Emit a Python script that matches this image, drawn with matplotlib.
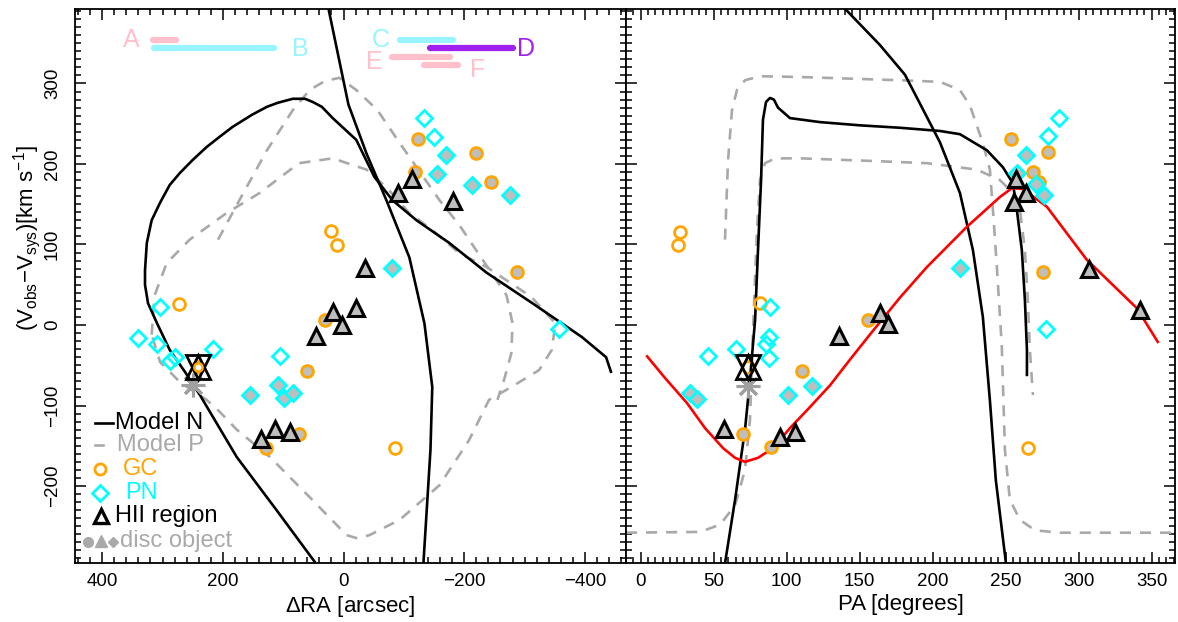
import matplotlib
matplotlib.use('Agg')
import matplotlib.pyplot as plt
from matplotlib.ticker import MultipleLocator

plt.rcParams['font.family'] = ['Liberation Sans', 'DejaVu Sans']
plt.rcParams['mathtext.default'] = 'regular'
plt.rcParams['axes.unicode_minus'] = True

ORANGE = '#FFA500'
CYAN = '#00FFFF'
FILLGRAY = '#BEBEBE'
DASHGRAY = '#A9A9A9'
PINK = '#FFC0CB'
LCYAN = '#98F5FF'
PURPLE = '#A020F0'

# ---------------- left panel (Delta RA) ----------------
# Model N curves
nL1_ra = [48, 111, 177, 238, 263, 288, 309, 324, 329, 329, 326, 318, 304, 288, 271, 250, 227, 205, 184,
          152, 127, 109, 84, 64, 51, 36, 18, -21, -51, -81, -121, -175, -237, -313, -395, -435, -443]
nL1_v = [-294, -230, -164, -87, -58, -31, 2, 27, 50, 68, 102, 130, 152, 174, 189, 205, 221, 234, 246,
         261, 271, 276, 281, 281, 277, 271, 257, 230, 184, 155, 130, 102, 65, 27, -15, -40, -58]
nL2_ra = [28, 25, -8, -38, -71, -109, -134, -147, -144, -132]
nL2_v = [410, 393, 274, 213, 155, 84, 2, -77, -155, -300]
# Model P curves
pLA_ra = [208, 177, 127, 84, 56, 31, 7, -21, -56, -93, -121, -159, -192, -225, -253, -270, -280, -278, -266, -255]
pLA_v = [106, 149, 217, 267, 292, 303, 307, 292, 267, 226, 196, 155, 124, 87, 56, 37, 2, -35, -68, -93]
pLB_ra = [318, 313, 293, 255, 194, 139, 74, 18, -38, -71, -109, -147, -192, -237, -311, -351, -345, -324,
          -278, -241, -208, -159, -93, -43, -23, -5, 56, 122, 177, 205, 227, 271, 304, 318]
pLB_v = [-12, 37, 77, 106, 139, 164, 201, 207, 193, 171, 139, 118, 89, 72, 35, 2, -31, -56,
         -77, -93, -143, -199, -242, -261, -265, -261, -214, -164, -130, -108, -93, -71, -46, -12]

# objects
gcO_ra = [21.5, 11.6, 273, -86]
gcO_v = [117, 99, 26, -153]
gcF_ra = [30, 61, -124, -220, -119, -245, -288, 129, 74]
gcF_v = [6, -57, 231, 214, 190, 178, 66, -153, -135]
pnO_ra = [304, 341, 309, 288, 280, 217, 106, -134, -150, -357]
pnO_v = [22, -16, -24, -45, -40, -30, -38, 257, 234, -5]
pnF_ra = [109, 155, 98, 83, -169, -155, -213, -276, -81]
pnF_v = [-75, -87, -91, -85, 211, 188, 174, 161, 71]
hii_ra = [-35, 17, -21, 3, 45, -114, -91, -182, 136, 114, 89]
hii_v = [71, 16, 21, 0, -14, 181, 164, 154, -141, -129, -133]
nuc_ra, nuc_v = [241], [-52]
ast_ra, ast_v = [250], [-75]

# velocity ranges A-F
rng_labels = ['A', 'B', 'C', 'D', 'E', 'F']
rng_x0 = [316, 314, -93, -144, -81, -134]
rng_x1 = [278, 116, -182, -281, -177, -190]
rng_y = [354, 344, 354, 344, 333, 323]
rng_colors = [PINK, LCYAN, LCYAN, PURPLE, PINK, PINK]
lab_x = [352, 71, -61, -303, -51, -222]
lab_y = [354, 343, 354, 343, 327, 317]

# ---------------- right panel (PA) ----------------
nR1_pa = [57.8, 64.7, 71.5, 74.9, 78.4, 80.4, 82.5, 83.8, 85.9, 88.6, 91.3, 94.1, 102.3, 122.9, 150.2,
          177.6, 205, 218.7, 237.2, 248.1, 255, 257.7, 261.1, 263.2, 264.6, 264.6]
nR1_v = [-296, -217, -130, -68, 6, 93, 180, 255, 277, 282, 280, 270, 257, 252, 248,
         245, 241, 237, 217, 196, 176, 143, 93, 31, -31, -62]
nR2_pa = [136, 139.9, 163.8, 181, 189.9, 205, 218.7, 227.6, 234.4, 239.2, 243.3, 250.5]
nR2_v = [400, 393, 348, 311, 280, 227, 164, 93, 10, -93, -193, -300]
pR1_pa = [57.8, 59.9, 62.6, 66, 71.5, 81.8, 109.2, 177.6, 205, 218.6, 225.5, 234.4, 239.2, 241.3, 244,
          247.4, 249.5, 252.9, 259.8, 270, 287.1, 370]
pR1_v = [106, 205, 267, 292, 304, 309, 308, 304, 302, 292, 273, 226, 193, 143, 72,
         -27, -155, -217, -242, -255, -258, -258]
pR2_pa = [-10, 40.7, 54.4, 64.7, 71.5, 74.9, 77, 79.7, 81.8, 85.2, 92.1, 109.2, 155, 196.1, 230.3,
          246.1, 255, 259.8, 263.2, 265.2, 266.6, 268.7]
pR2_v = [-258, -257, -248, -224, -180, -118, -6, 118, 180, 201, 207, 207, 204, 201, 193,
         180, 164, 143, 93, 31, -31, -87]
red_pa = [4.5, 16.8, 31.8, 44.1, 56.5, 64.7, 71.5, 80.4, 90.7, 102.3, 113.9, 129.7, 143.4, 157, 177.6,
          196.1, 223.5, 246.1, 254.3, 261.8, 278.2, 305.6, 339.8, 354.2]
red_v = [-39, -66, -97, -128, -153, -165, -170, -165, -153, -128, -106, -75, -43, -12, 34,
         72, 122, 159, 170, 169, 147, 81, 21, -21]

gcO_pa = [27, 25.5, 82, 265, 73.5]
gcO_vR = [116, 99, 27, -153, -52]
gcF_pa = [156, 110.5, 253.5, 279, 269, 273, 275.5, 89.5, 70]
gcF_vR = [6, -57, 231, 215, 190, 178, 66, -152, -135]
pnO_pa = [88.6, 88, 86, 88, 65, 46, 286.5, 279, 277.5]
pnO_vR = [22, -15, -24, -41, -30, -39, 257, 235, -5]
pnF_pa = [34, 38.5, 101, 117.5, 264, 258, 271, 276, 219]
pnF_vR = [-84, -92, -87, -76, 211, 189, 175, 161, 71]
hii_pa = [57, 95.5, 106, 136, 164, 169.5, 257, 264, 256, 307, 342]
hii_vR = [-129, -139, -133, -14, 15, 1, 181, 164, 153, 70, 19]
nuc_pa, nuc_vR = [73.5], [-52]
ast_pa, ast_vR = [73.5], [-76]

W, H = 1178, 622
fig = plt.figure(figsize=(W / 100, H / 100), dpi=100)
y0 = (H - 563.3) / H
hh = 554.7 / H
axL = fig.add_axes([75 / W, y0, 551 / W, hh])
axR = fig.add_axes([626 / W, y0, 549 / W, hh])

LW = 1.9
DASH = (0, (4.2, 3.4))


def draw_points(ax, gox, goy, gfx, gfy, pox, poy, pfx, pfy, hx, hy, nx, ny, ax_x, ax_y):
    ax.plot(gox, goy, 'o', ms=8.5, mfc='none', mec=ORANGE, mew=2.0, ls='none', zorder=5)
    ax.plot(gfx, gfy, 'o', ms=8.5, mfc=FILLGRAY, mec=ORANGE, mew=2.0, ls='none', zorder=5)
    ax.plot(pox, poy, 'D', ms=8.0, mfc='none', mec=CYAN, mew=2.0, ls='none', zorder=5)
    ax.plot(pfx, pfy, 'D', ms=8.0, mfc=FILLGRAY, mec=CYAN, mew=2.0, ls='none', zorder=5)
    ax.plot(hx, hy, '^', ms=11, mfc=FILLGRAY, mec='black', mew=2.2, ls='none', zorder=6)
    ax.plot(ax_x, ax_y, marker=(8, 2, 0), ms=17, mec='#A0A0A0', mew=2.2, ls='none', zorder=6)
    ax.plot(nx, ny, '^', ms=17, mfc='none', mec='black', mew=2.0, ls='none', zorder=7)
    ax.plot(nx, ny, 'v', ms=17, mfc='none', mec='black', mew=2.0, ls='none', zorder=7)


# left panel curves
axL.plot(nL1_ra, nL1_v, color='black', lw=LW, zorder=3)
axL.plot(nL2_ra, nL2_v, color='black', lw=LW, zorder=3)
axL.plot(pLA_ra, pLA_v, color=DASHGRAY, lw=LW, ls=DASH, zorder=2)
axL.plot(pLB_ra, pLB_v, color=DASHGRAY, lw=LW, ls=DASH, zorder=2)
draw_points(axL, gcO_ra + nuc_ra, gcO_v + nuc_v, gcF_ra, gcF_v, pnO_ra, pnO_v, pnF_ra, pnF_v,
            hii_ra, hii_v, nuc_ra, nuc_v, ast_ra, ast_v)
axL.plot(nuc_ra, nuc_v, 'o', ms=6, mfc='none', mec=ORANGE, mew=1.8, ls='none', zorder=8)

for lab, a, b, yy, c, lx, ly in zip(rng_labels, rng_x0, rng_x1, rng_y, rng_colors, lab_x, lab_y):
    axL.plot([a, b], [yy, yy], color=c, lw=4.5, solid_capstyle='round', zorder=4)
    axL.text(lx, ly, lab, color=c, fontsize=18, ha='center', va='center', zorder=4)

# right panel curves
axR.plot(nR1_pa, nR1_v, color='black', lw=LW, zorder=3)
axR.plot(nR2_pa, nR2_v, color='black', lw=LW, zorder=3)
axR.plot(pR1_pa, pR1_v, color=DASHGRAY, lw=LW, ls=DASH, zorder=2)
axR.plot(pR2_pa, pR2_v, color=DASHGRAY, lw=LW, ls=DASH, zorder=2)
axR.plot(red_pa, red_v, color='red', lw=LW, zorder=4)
draw_points(axR, gcO_pa, gcO_vR, gcF_pa, gcF_vR, pnO_pa, pnO_vR, pnF_pa, pnF_vR,
            hii_pa, hii_vR, nuc_pa, nuc_vR, ast_pa, ast_vR)

# legend (manual, lower left of left panel)
T = axL.transAxes
FS = 17
axL.plot([0.036, 0.069], [0.253, 0.253], color='black', lw=LW, transform=T)
axL.text(0.072, 0.253, 'Model N', color='black', fontsize=FS, transform=T, va='center', ha='left')
axL.plot([0.036, 0.051], [0.213, 0.213], color=DASHGRAY, lw=LW, transform=T)
axL.text(0.076, 0.213, 'Model P', color=DASHGRAY, fontsize=FS, transform=T, va='center', ha='left')
axL.plot([0.045], [0.170], 'o', ms=8, mfc='none', mec=ORANGE, mew=2.0, transform=T)
axL.text(0.087, 0.170, 'GC', color=ORANGE, fontsize=FS, transform=T, va='center', ha='left')
axL.plot([0.045], [0.127], 'D', ms=8, mfc='none', mec=CYAN, mew=2.0, transform=T)
axL.text(0.091, 0.127, 'PN', color=CYAN, fontsize=FS, transform=T, va='center', ha='left')
axL.plot([0.047], [0.085], '^', ms=10, mfc='none', mec='black', mew=2.4, transform=T)
axL.text(0.072, 0.085, 'HII region', color='black', fontsize=FS, transform=T, va='center', ha='left')
axL.plot([0.024], [0.038], 'o', ms=7, color='#A9A9A9', transform=T)
axL.plot([0.047], [0.040], '^', ms=8, color='#A9A9A9', transform=T)
axL.plot([0.069], [0.038], 'D', ms=5, color='#A9A9A9', transform=T)
axL.text(0.082, 0.040, 'disc object', color='#A9A9A9', fontsize=FS, transform=T, va='center', ha='left')

# axes formatting
for ax in (axL, axR):
    ax.set_ylim(-296, 393)
    ax.yaxis.set_major_locator(MultipleLocator(100))
    ax.yaxis.set_minor_locator(MultipleLocator(10))
    ax.tick_params(which='both', direction='in', top=True, right=True, width=1.1)
    ax.tick_params(which='major', length=8)
    ax.tick_params(which='minor', length=4)
    ax.tick_params(axis='x', labelsize=13.5, pad=7)
    ax.tick_params(axis='y', labelsize=13.5, pad=10)
    for s in ax.spines.values():
        s.set_linewidth(1.3)

axL.set_xlim(445, -468)
axL.xaxis.set_major_locator(MultipleLocator(200))
axL.xaxis.set_minor_locator(MultipleLocator(20))
axR.set_xlim(-10, 366)
axR.xaxis.set_major_locator(MultipleLocator(50))
axR.xaxis.set_minor_locator(MultipleLocator(5))
axR.tick_params(axis='y', labelleft=False)

for lab in axL.get_yticklabels():
    lab.set_rotation(90)
    lab.set_va('center')

axL.set_xlabel(r'$\Delta$RA [arcsec]', fontsize=16, labelpad=3)
axR.set_xlabel('PA [degrees]', fontsize=16, labelpad=3)
fig.text(27 / W, 1 - 238 / H, r'(V$_{obs}$$-$V$_{sys}$)[km s$^{-1}$]', rotation=90,
         fontsize=16, ha='center', va='center')

fig.savefig('out.png', dpi=100)
